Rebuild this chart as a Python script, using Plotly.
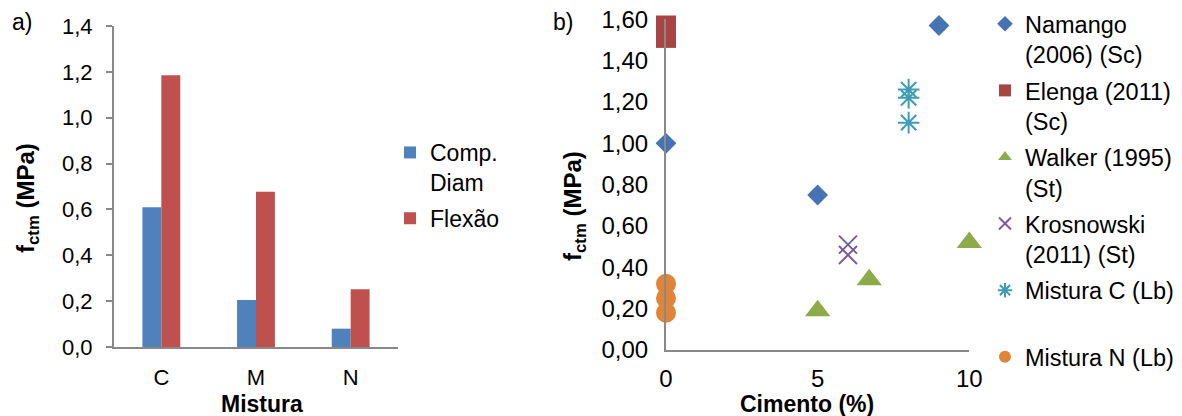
import plotly.graph_objects as go

W, H = 1182, 416

# ---------------- data: chart a) ----------------
categories = ["C", "M", "N"]
comp_diam = [0.61, 0.205, 0.08]
flexao = [1.185, 0.677, 0.252]

# ---------------- data: chart b) ----------------
namango_x = [0, 5, 9]
namango_y = [1.00, 0.75, 1.57]
elenga_x = [0, 0]
elenga_y = [1.57, 1.51]
walker_x = [5, 6.7, 10]
walker_y = [0.19, 0.34, 0.52]
krosnowski_x = [6, 6]
krosnowski_y = [0.51, 0.46]
misturaC_x = [8, 8, 8]
misturaC_y = [1.26, 1.22, 1.10]
misturaN_x = [0, 0, 0]
misturaN_y = [0.32, 0.25, 0.18]

FONT = "Liberation Sans, Arial, sans-serif"
AXIS_COL = "#898989"


def px_x(p):
    return p / W


def px_y(p):
    return 1 - p / H


fig = go.Figure()

# ---- bars ----
fig.add_trace(go.Bar(x=categories, y=comp_diam, name="Comp.<br>Diam",
                     marker=dict(color="#4F81BD", line=dict(width=0)),
                     xaxis="x", yaxis="y", legend="legend", legendgroup="a1"))
fig.add_trace(go.Bar(x=categories, y=flexao, name="Flexão",
                     marker=dict(color="#C0504D", line=dict(width=0)),
                     xaxis="x", yaxis="y", legend="legend", legendgroup="a2"))


# ---- scatter ----
def sc(x, y, name, symbol, color, size, group, open_line=False):
    m = dict(symbol=symbol, color=color, size=size)
    if open_line:
        m["line"] = dict(color=color, width=2)
    else:
        m["line"] = dict(width=0)
    return go.Scatter(x=x, y=y, mode="markers", name=name, marker=m,
                      xaxis="x2", yaxis="y2", legend="legend2", legendgroup=group,
                      cliponaxis=False)


fig.add_trace(sc(namango_x, namango_y, "Namango<br>(2006) (Sc)", "diamond", "#4573B3", 16, "b1"))
fig.add_trace(sc(elenga_x, elenga_y, "Elenga (2011)<br>(Sc)", "square", "#AA4443", 20, "b2"))
fig.add_trace(sc(walker_x, walker_y, "Walker (1995)<br>(St)", "triangle-up", "#8EAB4B", 22, "b3"))
fig.add_trace(sc(krosnowski_x, krosnowski_y, "Krosnowski<br>(2011) (St)", "x-thin-open", "#7A5C9E", 18, "b4", True))
fig.add_trace(sc(misturaC_x, misturaC_y, "Mistura C (Lb)<br> ", "asterisk-open", "#3E9CB6", 18, "b5", True))
fig.add_trace(sc(misturaN_x, misturaN_y, "Mistura N (Lb)", "circle", "#E0843A", 20, "b6"))

tickfont_l = dict(family=FONT, size=22, color="#000000")
tickfont_r = dict(family=FONT, size=24, color="#000000")

fig.update_layout(
    width=W, height=H,
    margin=dict(l=0, r=0, t=0, b=0, pad=0, autoexpand=False),
    paper_bgcolor="white", plot_bgcolor="white",
    separators=",.",
    barmode="group", bargap=0.6, bargroupgap=0,
    font=dict(family=FONT, size=23, color="#000000"),
    xaxis=dict(domain=[px_x(114), px_x(398)], type="category",
               showline=True, linecolor=AXIS_COL, linewidth=2,
               ticks="", showgrid=False, zeroline=False,
               tickfont=tickfont_l, ticklabelstandoff=10, anchor="y"),
    yaxis=dict(domain=[px_y(347), px_y(26)], range=[0, 1.4], dtick=0.2,
               tickformat=".1f", showline=True, linecolor=AXIS_COL, linewidth=2,
               ticks="outside", ticklen=6, tickcolor=AXIS_COL, tickwidth=2,
               showgrid=False, zeroline=False, tickfont=tickfont_l,
               ticklabelstandoff=9, anchor="x"),
    xaxis2=dict(domain=[px_x(666), px_x(969.3)], range=[0, 10],
                tickvals=[0, 5, 10], showline=True, linecolor=AXIS_COL, linewidth=2,
                ticks="", showgrid=False, zeroline=False, tickfont=tickfont_r,
                ticklabelstandoff=6, anchor="y2"),
    yaxis2=dict(domain=[px_y(350), px_y(19.3)], range=[0, 1.6], dtick=0.2,
                tickformat=".2f", showline=True, linecolor=AXIS_COL, linewidth=2,
                ticks="", showgrid=False, zeroline=False, tickfont=tickfont_r,
                ticklabelstandoff=11, anchor="x2"),
    legend=dict(x=px_x(390), y=px_y(131), xanchor="left", yanchor="top",
                font=dict(family=FONT, size=23), valign="top",
                bgcolor="rgba(0,0,0,0)", tracegroupgap=3, traceorder="grouped"),
    legend2=dict(x=px_x(985), y=px_y(2), xanchor="left", yanchor="top",
                 font=dict(family=FONT, size=23.5), valign="top",
                 itemsizing="constant", bgcolor="rgba(0,0,0,0)",
                 tracegroupgap=2.5, traceorder="grouped", maxheight=1),
    showlegend=True,
)

ann = []
title_font = dict(family=FONT, size=23, color="#000000")
ann.append(dict(text="a)", x=px_x(22), y=px_y(22), xref="paper", yref="paper",
                showarrow=False, font=title_font, xanchor="center", yanchor="middle"))
ann.append(dict(text="b)", x=px_x(563), y=px_y(22), xref="paper", yref="paper",
                showarrow=False, font=title_font, xanchor="center", yanchor="middle"))
ann.append(dict(text="<b>f<sub>ctm</sub> (MPa)</b>", x=px_x(27), y=px_y(198),
                xref="paper", yref="paper", showarrow=False, textangle=-90,
                font=dict(family=FONT, size=24, color="#000000"),
                xanchor="center", yanchor="middle"))
ann.append(dict(text="<b>f<sub>ctm</sub> (MPa)</b>", x=px_x(574), y=px_y(206),
                xref="paper", yref="paper", showarrow=False, textangle=-90,
                font=dict(family=FONT, size=24, color="#000000"),
                xanchor="center", yanchor="middle"))
ann.append(dict(text="<b>Mistura</b>", x=px_x(262), y=px_y(404), xref="paper", yref="paper",
                showarrow=False, font=title_font, xanchor="center", yanchor="middle"))
ann.append(dict(text="<b>Cimento (%)</b>", x=px_x(807), y=px_y(404), xref="paper", yref="paper",
                showarrow=False, font=title_font, xanchor="center", yanchor="middle"))
fig.update_layout(annotations=ann)

fig.write_html("out.html")
